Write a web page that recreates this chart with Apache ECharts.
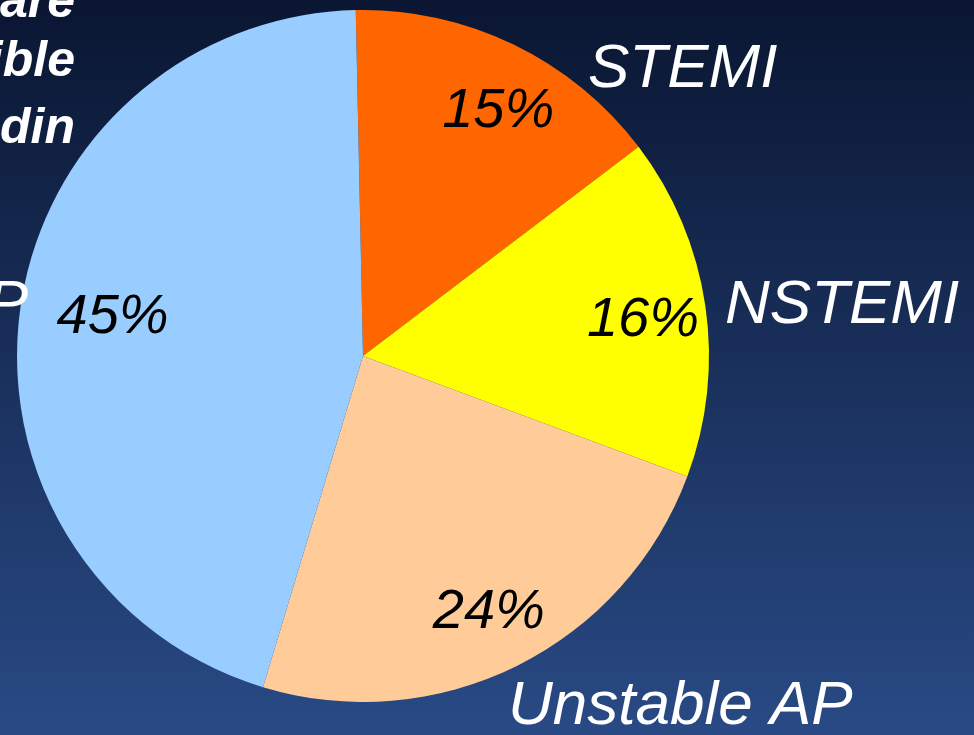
<!DOCTYPE html>
<html>
<head>
<meta charset="utf-8">
<script src="https://cdn.jsdelivr.net/npm/echarts@6/dist/echarts.min.js"></script>
<style>
    html, body { margin: 0; padding: 0; }
    #chart { width: 974px; height: 735px; }
</style>
</head>
<body>
<div id="chart"></div>
<script>
// 数据
const categories = ['STEMI', 'NSTEMI', 'Unstable AP', 'Stable AP'];
const shares = [15, 16, 24, 45];
const sliceColors = ['#ff6600', '#ffff00', '#ffcc99', '#99ccff'];

// 类别标签位置 (x, y, 对齐)
const nameSpots = [
    [588, 70, 'left'],
    [725, 306, 'left'],
    [508, 707, 'left'],
    [28, 306, 'right'],
];
// 百分比标签微调
const pctNudge = [[12, 10], [0, 6], [0, 3], [30, 0]];

const pieData = categories.map((name, i) => ({
    name: name,
    value: shares[i],
    itemStyle: { color: sliceColors[i] },
}));

const chart = echarts.init(document.getElementById('chart'));
chart.setOption({
    backgroundColor: new echarts.graphic.LinearGradient(0, 0, 0, 1, [
        { offset: 0, color: '#0a1632' },
        { offset: 1, color: '#294a85' },
    ]),
    animation: false,
    graphic: [
        { type: 'text', right: 899, top: -22, style: { text: 'are', fill: '#fff', font: 'italic bold 50px "Liberation Sans", Arial, sans-serif' } },
        { type: 'text', right: 899, top: 37, style: { text: 'ible', fill: '#fff', font: 'italic bold 50px "Liberation Sans", Arial, sans-serif' } },
        { type: 'text', right: 899, top: 104, style: { text: 'din', fill: '#fff', font: 'italic bold 50px "Liberation Sans", Arial, sans-serif' } },
    ],
    series: [
        {
            // 主饼图 + 类别名
            type: 'pie',
            center: [363, 356],
            radius: [0, 346],
            startAngle: 91.2,
            clockwise: true,
            silent: true,
            avoidLabelOverlap: false,
            itemStyle: { borderWidth: 0 },
            label: {
                show: true,
                position: 'outside',
                formatter: '{b}',
                color: '#ffffff',
                fontFamily: '"Liberation Sans", Arial, sans-serif',
                fontStyle: 'italic',
                fontSize: 62,
                overflow: 'none',
                width: 500,
            },
            labelLine: { show: false },
            labelLayout: function (params) {
                const spot = nameSpots[params.dataIndex];
                return { x: spot[0], y: spot[1], align: spot[2], verticalAlign: 'middle', hideOverlap: false };
            },
            data: pieData,
        },
        {
            // 百分比标签
            type: 'pie',
            center: [363, 356],
            radius: [214, 346],
            startAngle: 91.2,
            clockwise: true,
            silent: true,
            avoidLabelOverlap: false,
            itemStyle: { color: 'rgba(0,0,0,0)', borderWidth: 0 },
            label: {
                show: true,
                position: 'inside',
                formatter: '{c}%',
                color: '#000000',
                fontFamily: '"Liberation Sans", Arial, sans-serif',
                fontStyle: 'italic',
                fontSize: 56,
            },
            labelLine: { show: false },
            labelLayout: function (params) {
                const n = pctNudge[params.dataIndex];
                return { dx: n[0], dy: n[1] };
            },
            data: categories.map((name, i) => ({ name: name, value: shares[i] })),
        },
    ],
});
</script>
</body>
</html>
